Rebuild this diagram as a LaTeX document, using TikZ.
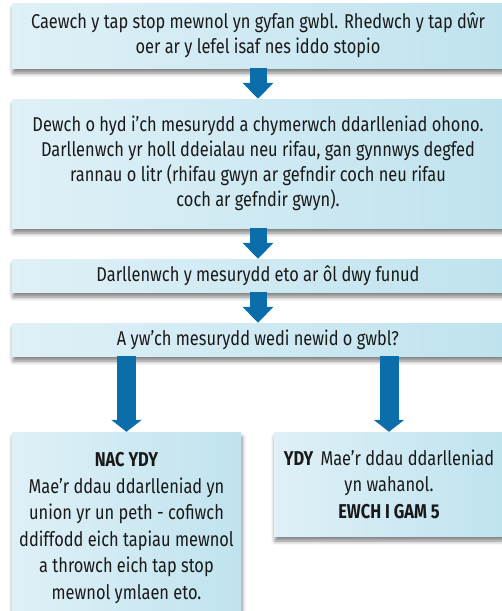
\documentclass[tikz,border=0pt]{standalone}
\usepackage{fontspec}
\setmainfont{Fira Sans}[FakeStretch=0.82]
\usetikzlibrary{arrows.meta,shadows.blur}
\definecolor{boxleft}{HTML}{DFF0F7}
\definecolor{boxright}{HTML}{BFE3EE}
\definecolor{flowblue}{HTML}{0B6DAA}
\tikzset{
  stepbox/.style={inner sep=0pt, align=center, left color=boxleft, right color=boxright,
    blur shadow={shadow xshift=1pt, shadow yshift=-5pt, shadow blur radius=4pt, shadow opacity=50},
    font=\fontsize{20}{25}\selectfont, text=black!90},
  flow/.style={draw=flowblue, line width=17pt, -{Triangle[width=30pt,length=16pt]}},
  branch/.style={draw=flowblue, line width=19pt, -{Triangle[width=30pt,length=12pt]}}
}
\begin{document}
\begin{tikzpicture}[x=1pt, y=-1pt]
\useasboundingbox (0,0) rectangle (502,611);
\clip (0,0) rectangle (502,611);

% the steps
\node[stepbox, minimum width=492, minimum height=65] (caewch) at (258,35.5)
  {Caewch y tap stop mewnol yn gyfan gwbl. Rhedwch y tap dŵr\\oer ar y lefel isaf nes iddo stopio};
\node[stepbox, minimum width=492, minimum height=129] (dewch) at (258,163.5)
  {Dewch o hyd i’ch mesurydd a chymerwch ddarlleniad ohono.\\
   Darllenwch yr holl ddeialau neu rifau, gan gynnwys degfed\\
   rannau o litr (rhifau gwyn ar gefndir coch neu rifau\\
   coch ar gefndir gwyn).};
\node[stepbox, minimum width=492, minimum height=33] (eto) at (258,275.5)
  {Darllenwch y mesurydd eto ar ôl dwy funud};
\node[stepbox, minimum width=492, minimum height=33] (newid) at (258,339.5)
  {A yw’ch mesurydd wedi newid o gwbl?};

% the two answers
\node[stepbox, minimum width=229, minimum height=192, font=\fontsize{20}{26.5}\selectfont] (nac) at (126.5,528)
  {\textbf{NAC YDY}\\
   Mae’r ddau ddarlleniad yn\\
   union yr un peth - cofiwch\\
   ddiffodd eich tapiau mewnol\\
   a throwch eich tap stop\\
   mewnol ymlaen eto.};
\node[stepbox, minimum width=230, minimum height=104, font=\fontsize{20}{26.5}\selectfont] (ydy) at (389,484)
  {\textbf{YDY}\hspace{7pt}Mae’r ddau ddarlleniad\\
   yn wahanol.\\
   \textbf{EWCH I GAM 5}};

% arrows between the steps
\draw[flow] (caewch.south) -- (dewch.north);
\draw[flow] (dewch.south) -- (eto.north);
\draw[flow] (eto.south) -- (newid.north);
\draw[branch] (newid.south -| nac.north) -- (nac.north);
\draw[branch] (newid.south -| ydy.north) -- (ydy.north);
\end{tikzpicture}
\end{document}
